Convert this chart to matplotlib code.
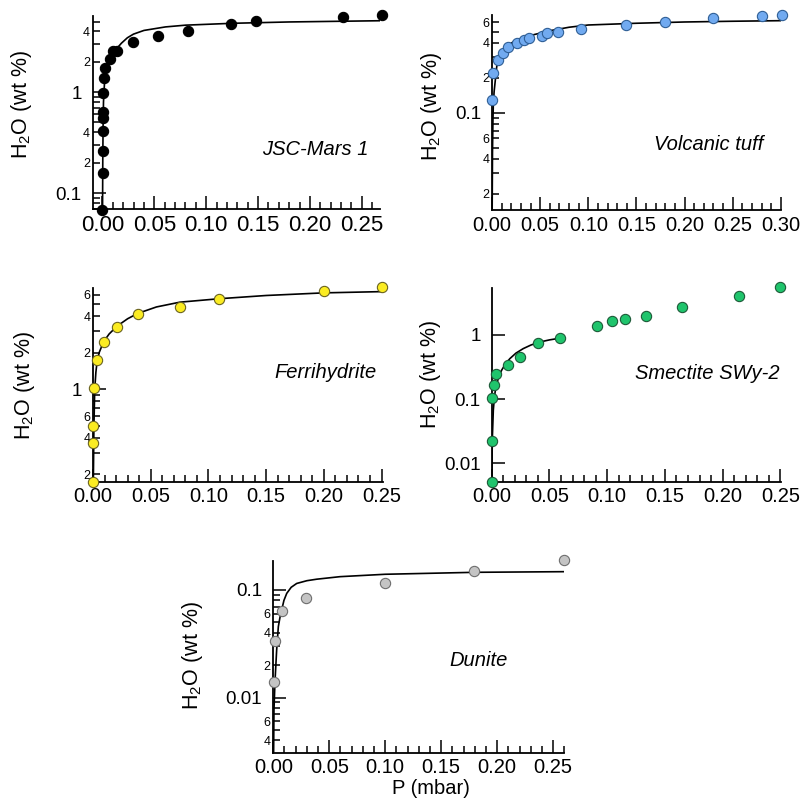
import matplotlib
matplotlib.use("Agg")
import numpy as np
import matplotlib.pyplot as plt
from matplotlib.ticker import (LogLocator, FuncFormatter,
                               MultipleLocator, NullLocator, NullFormatter)

plt.rcParams['font.family'] = ['Liberation Sans', 'DejaVu Sans']
plt.rcParams['mathtext.fontset'] = 'custom'
plt.rcParams['mathtext.rm'] = 'Liberation Sans'
plt.rcParams['mathtext.it'] = 'Liberation Sans:italic'

# ---------------- data ----------------
# JSC-Mars 1
jsc_p = [0.0, 0.0002, 0.0002, 0.0005, 0.0005, 0.0005, 0.001, 0.0017, 0.0025,
         0.0074, 0.0106, 0.0139, 0.0299, 0.054, 0.0823, 0.1237, 0.1484, 0.2316, 0.2695]
jsc_w = [0.068, 0.157, 0.261, 0.415, 0.558, 0.64, 0.973, 1.39, 1.72,
         2.11, 2.55, 2.55, 3.16, 3.59, 4.03, 4.72, 5.09, 5.58, 5.76]
jsc_fit_p = [0.0001, 0.0003, 0.0006, 0.001, 0.002, 0.0036, 0.005, 0.0074, 0.01,
             0.0139, 0.0183, 0.024, 0.0299, 0.04, 0.0607, 0.08, 0.125, 0.18, 0.2675]
jsc_fit_w = [0.069, 0.2, 0.45, 0.8, 1.25, 1.65, 1.88, 2.16, 2.42,
             2.71, 3.05, 3.45, 3.75, 4.08, 4.42, 4.6, 4.8, 4.95, 5.09]

# Volcanic tuff
tuff_p = [0.0, 0.0014, 0.0059, 0.0118, 0.0163, 0.0256, 0.0336, 0.0388, 0.0516,
          0.0568, 0.0682, 0.0921, 0.139, 0.1797, 0.2298, 0.2807, 0.3007]
tuff_w = [0.129, 0.219, 0.285, 0.329, 0.371, 0.401, 0.423, 0.438, 0.461,
          0.483, 0.493, 0.523, 0.567, 0.605, 0.659, 0.686, 0.692]
tuff_fit_p = [0.00017, 0.0005, 0.001, 0.0014, 0.0022, 0.0031, 0.0049, 0.0065, 0.0083,
              0.0115, 0.0152, 0.02, 0.0256, 0.035, 0.0464, 0.0602, 0.08, 0.1, 0.15,
              0.2, 0.25, 0.3]
tuff_fit_w = [0.0145, 0.045, 0.088, 0.12, 0.152, 0.179, 0.249, 0.285, 0.314,
              0.345, 0.371, 0.398, 0.423, 0.452, 0.477, 0.509, 0.545, 0.57, 0.59,
              0.605, 0.614, 0.621]

# Ferrihydrite
ferri_p = [0.0, 0.0, 0.0, 0.0006, 0.0037, 0.0092, 0.0208, 0.0387, 0.0753,
           0.1094, 0.2, 0.2506]
ferri_w = [0.172, 0.365, 0.5, 1.03, 1.74, 2.46, 3.23, 4.13, 4.78, 5.53, 6.47, 6.89]
ferri_fit_p = [0.0003, 0.0008, 0.0015, 0.0025, 0.0037, 0.0055, 0.0092, 0.014, 0.0208,
               0.03, 0.0387, 0.055, 0.0753, 0.1094, 0.15, 0.2, 0.2506]
ferri_fit_w = [0.174, 0.5, 1.0, 1.38, 1.74, 2.02, 2.46, 2.85, 3.3,
               3.8, 4.2, 4.75, 5.2, 5.55, 5.9, 6.2, 6.35]

# Smectite SWy-2
smec_p = [0.0, 0.0, 0.0005, 0.0017, 0.0037, 0.0138, 0.0245, 0.0397, 0.059,
          0.0916, 0.104, 0.1155, 0.134, 0.1645, 0.2143, 0.25]
smec_w = [0.00506, 0.0223, 0.103, 0.166, 0.244, 0.341, 0.459, 0.76, 0.887,
          1.38, 1.65, 1.75, 2.0, 2.73, 4.05, 5.53]
smec_fit_p = [0.0001, 0.0005, 0.0014, 0.0025, 0.0037, 0.006, 0.0086, 0.012, 0.0158,
              0.021, 0.0273, 0.034, 0.0417, 0.05, 0.059]
smec_fit_w = [0.0052, 0.023, 0.0675, 0.115, 0.155, 0.22, 0.282, 0.355, 0.428,
              0.52, 0.611, 0.695, 0.774, 0.835, 0.887]

# Dunite
dun_p = [0.0006, 0.0015, 0.008, 0.0292, 0.0997, 0.179, 0.2596]
dun_w = [0.014, 0.0336, 0.0638, 0.0848, 0.1154, 0.151, 0.19]
dun_fit_p = [0.0003, 0.0006, 0.0015, 0.003, 0.0045, 0.006, 0.0075, 0.0095, 0.012,
             0.016, 0.0209, 0.03, 0.0388, 0.0596, 0.1, 0.18, 0.26]
dun_fit_w = [0.00315, 0.0077, 0.014, 0.0277, 0.0456, 0.056, 0.0652, 0.08, 0.093,
             0.106, 0.115, 0.122, 0.126, 0.133, 0.14, 0.146, 0.148]

names = ["JSC-Mars 1", "Volcanic tuff", "Ferrihydrite", "Smectite SWy-2", "Dunite"]
ylabel = "H$_\\mathregular{2}$O (wt %)"
xlabel = "P (mbar)"

# labelled minor mantissas per panel
jsc_minor_labels = [2, 4]
std_minor_labels = [2, 4, 6]

W, H = 801, 808
fig = plt.figure(figsize=(W / 100, H / 100), dpi=100)


def px_axes(l, r, t, b):
    return fig.add_axes([l / W, 1 - b / H, (r - l) / W, (b - t) / H])


def style(ax, xlim, ylim, minor_lab, minors=True, xfs=14.5):
    ax.set_yscale('log')
    ax.set_xlim(*xlim)
    ax.set_ylim(*ylim)
    for s in ['top', 'right']:
        ax.spines[s].set_visible(False)
    for s in ['left', 'bottom']:
        ax.spines[s].set_linewidth(1.3)
    ax.xaxis.set_major_locator(MultipleLocator(0.05))
    ax.xaxis.set_minor_locator(MultipleLocator(0.01))
    ax.xaxis.set_major_formatter(FuncFormatter(lambda v, p: f"{abs(v):.2f}"))
    ax.yaxis.set_major_locator(LogLocator(base=10, numticks=20))
    ax.yaxis.set_major_formatter(FuncFormatter(lambda v, p: f"{v:g}"))
    if minors:
        ax.yaxis.set_minor_locator(LogLocator(base=10, subs=np.arange(2, 10), numticks=20))

        def mfmt(v, p):
            e = np.floor(np.log10(v) + 1e-9)
            m = int(round(v / 10 ** e))
            return str(m) if m in minor_lab else ""
        ax.yaxis.set_minor_formatter(FuncFormatter(mfmt))
    else:
        ax.yaxis.set_minor_locator(NullLocator())
        ax.yaxis.set_minor_formatter(NullFormatter())
    ax.tick_params(axis='both', which='both', direction='in', width=1.1, color='black')
    ax.tick_params(axis='x', which='major', length=9.5, pad=4, labelsize=xfs)
    ax.tick_params(axis='x', which='minor', length=4.8)
    ax.tick_params(axis='y', which='major', length=9.5, pad=8, labelsize=13.5)
    ax.tick_params(axis='y', which='minor', length=4.8, pad=2, labelsize=9)
    ax.patch.set_alpha(0)


def draw(ax, p, w, fp, fw, fc, ec):
    ax.plot(fp, fw, color='black', lw=1.2, zorder=2, solid_joinstyle='round')
    ax.plot(p, w, 'o', ms=7.4, mfc=fc, mec=ec, mew=0.8, clip_on=False, zorder=4)


# JSC-Mars 1
ax1 = px_axes(92.7, 380, 16, 209.3)
style(ax1, (-0.0094, 0.2675), (0.069, 5.67), jsc_minor_labels, xfs=16)
draw(ax1, jsc_p, jsc_w, jsc_fit_p, jsc_fit_w, 'black', 'black')

# Volcanic tuff
ax2 = px_axes(492, 781, 15, 210)
style(ax2, (0, 0.3001), (0.0145, 0.695), std_minor_labels)
draw(ax2, tuff_p, tuff_w, tuff_fit_p, tuff_fit_w, '#71aaf0', '#2f5f96')

# Ferrihydrite
ax3 = px_axes(93, 382.7, 288.3, 481.7)
style(ax3, (0, 0.251), (0.174, 6.76), std_minor_labels)
draw(ax3, ferri_p, ferri_w, ferri_fit_p, ferri_fit_w, '#fbec22', '#6b6420')

# Smectite SWy-2
ax4 = px_axes(491.7, 781, 288.3, 481.7)
style(ax4, (0, 0.2505), (0.0052, 5.3), [], minors=False)
draw(ax4, smec_p, smec_w, smec_fit_p, smec_fit_w, '#1fc46c', '#1d5a38')

# Dunite
ax5 = px_axes(273.3, 564.3, 561, 752.7)
style(ax5, (0, 0.26), (0.00307, 0.186), std_minor_labels)
draw(ax5, dun_p, dun_w, dun_fit_p, dun_fit_w, '#c4c4c4', '#6e6e6e')


def ftext(x, y, s, **kw):
    fig.text(x / W, 1 - y / H, s, **kw)


for (x, y) in [(21.5, 105), (431.5, 106.7), (24.2, 385.8), (430.8, 375), (192.5, 655.8)]:
    ftext(x, y, ylabel, rotation=90, ha='center', va='center', fontsize=15.5)

for (x, y), s in zip([(315.5, 155), (709, 150), (325.3, 378.3), (707.5, 379.3), (479, 666)], names):
    ftext(x, y, s, ha='center', va='baseline', fontsize=14.5, style='italic')

ftext(430.5, 789, xlabel, ha='center', va='center', fontsize=14.5)

fig.savefig("out.png", dpi=100)
